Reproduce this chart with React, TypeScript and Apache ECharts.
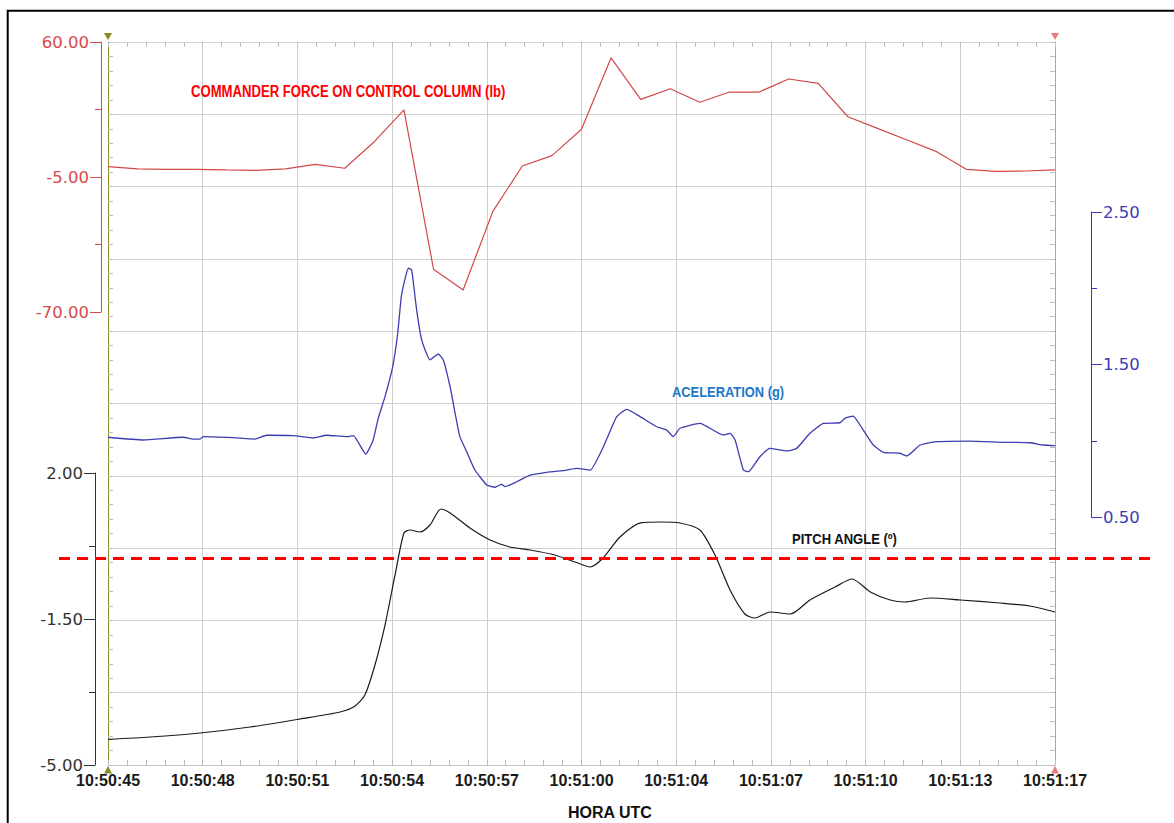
import React, { useEffect, useRef } from "react";
import * as echarts from "echarts";

// ---- tick labels ----
const xLabels = ["10:50:45", "10:50:48", "10:50:51", "10:50:54", "10:50:57", "10:51:00", "10:51:04", "10:51:07", "10:51:10", "10:51:13", "10:51:17"];

// ---- Commander force on control column (lb); x = seconds after 10:50:45 ----
const redSec = [0, 1, 2, 3, 4, 5, 6, 7, 8, 9, 10, 11, 12, 13, 14, 15, 16, 17, 18, 19, 20, 21, 22, 23, 24, 25, 26, 27, 28, 29, 30, 31, 32];
const redLb = [0.0, -1.1, -1.3, -1.3, -1.6, -1.8, -1.1, 1.1, -0.8, 12.0, 27.3, -49.4, -59.4, -21.7, 0.3, 5.3, 18.0, 52.4, 32.4, 37.5, 31.0, 35.9, 35.9, 42.2, 40.1, 24.0, 18.4, 12.8, 7.2, -1.3, -2.3, -2.1, -1.6];

// ---- Acceleration (g) ----
const blueSec = [0, 1.19, 2.54, 2.88, 3.11, 3.22, 4.23, 4.97, 5.36, 6.26, 6.94, 7.39, 8.07, 8.29, 8.71, 8.96, 9.13, 9.36, 9.62, 9.79, 9.92, 10.15, 10.26, 10.43, 10.6, 10.88, 11.16, 11.33, 11.56, 11.73, 11.89, 12.12, 12.4, 12.8, 13.08, 13.3, 13.42, 13.81, 14.26, 14.82, 15.5, 15.84, 16.29, 16.74, 17.19, 17.53, 17.98, 18.54, 18.88, 19.1, 19.33, 20.0, 20.79, 21.02, 21.19, 21.47, 21.64, 22.03, 22.37, 22.93, 23.27, 23.72, 24.17, 24.73, 24.9, 25.18, 25.52, 25.86, 26.2, 26.76, 26.99, 27.44, 28.0, 29.13, 30.25, 31.15, 31.6, 32.0];
const blueG = [1.023, 1.005, 1.023, 1.011, 1.011, 1.027, 1.02, 1.011, 1.036, 1.033, 1.018, 1.036, 1.027, 1.033, 0.913, 1.005, 1.147, 1.289, 1.486, 1.705, 1.956, 2.131, 2.12, 1.857, 1.661, 1.53, 1.569, 1.53, 1.354, 1.18, 1.027, 0.928, 0.808, 0.71, 0.695, 0.714, 0.699, 0.731, 0.775, 0.793, 0.808, 0.819, 0.808, 0.961, 1.158, 1.206, 1.158, 1.092, 1.07, 1.027, 1.082, 1.114, 1.038, 1.049, 1.005, 0.808, 0.797, 0.895, 0.95, 0.933, 0.95, 1.049, 1.114, 1.118, 1.147, 1.162, 1.07, 0.972, 0.924, 0.918, 0.9, 0.972, 0.994, 0.998, 0.99, 0.987, 0.972, 0.968];

// ---- Pitch angle (deg) ----
const blackSec = [0, 1.42, 3.11, 4.8, 6.49, 7.84, 8.35, 8.68, 9.02, 9.36, 9.7, 10.0, 10.2, 10.54, 10.88, 11.25, 11.56, 12.23, 12.91, 13.58, 14.26, 15.1, 15.78, 16.29, 16.73, 17.3, 18.03, 18.65, 19.33, 20.0, 20.51, 21.02, 21.52, 21.86, 22.37, 23.05, 23.72, 24.57, 25.14, 25.76, 26.43, 26.93, 27.78, 28.79, 30.14, 31.15, 32.0];
const blackDeg = [-4.384, -4.329, -4.233, -4.089, -3.897, -3.73, -3.586, -3.322, -2.603, -1.644, -0.445, 0.562, 0.634, 0.586, 0.753, 1.137, 1.041, 0.681, 0.394, 0.226, 0.154, 0.034, -0.133, -0.253, -0.038, 0.466, 0.809, 0.825, 0.801, 0.634, 0.034, -0.805, -1.38, -1.476, -1.332, -1.38, -1.045, -0.733, -0.541, -0.853, -1.045, -1.093, -0.997, -1.045, -1.116, -1.188, -1.332];

// axis ranges
const X_MIN = 0, X_MAX = 32, X_STEP = 3.2;
const RED_MIN = -70, RED_MAX = 60, RED_STEP = 65;
const BLUE_MIN = 0.5, BLUE_MAX = 2.5, BLUE_STEP = 1;
const BLK_MIN = -5, BLK_MAX = 2, BLK_STEP = 3.5;
const PITCH_REF = -0.05;

// layout
const PL = 108, PT = 42, PW = 947, PH = 723;
const RED_TOP = 42, RED_H = 270;
const BLUE_TOP = 212, BLUE_H = 305;
const BLK_TOP = 473, BLK_H = 292;

const OLIVE = "#8a8a22";
const PINK = "#e88e8a";
const RED_AX = "#d64a4a";
const BLUE_AX = "#3b3bb8";
const BLK_AX = "#333333";

function sideAxis(gridIndex: number, position: string, offset: number, min: number, max: number, interval: number, color: string) {
  return {
    type: "value",
    gridIndex,
    position,
    offset,
    min,
    max,
    interval,
    axisLine: { show: true, onZero: false, lineStyle: { color, width: 1 } },
    axisTick: { show: true, inside: false, length: 11, lineStyle: { color, width: 1 } },
    minorTick: { show: true, splitNumber: 2, length: 6, lineStyle: { color, width: 1 } },
    splitLine: { show: false },
    axisLabel: {
      show: true,
      color,
      fontFamily: "DejaVu Sans",
      fontSize: 16.5,
      margin: 12,
      formatter: (v: number) => v.toFixed(2),
    },
  };
}

function hiddenX(gridIndex: number) {
  return { type: "value", gridIndex, min: X_MIN, max: X_MAX, show: false };
}

export default function App() {
  const ref = useRef<HTMLDivElement>(null);
  useEffect(() => {
    const chart = echarts.init(ref.current!, null, { renderer: "svg" });
    const zeroY = BLK_TOP + ((BLK_MAX - PITCH_REF) / (BLK_MAX - BLK_MIN)) * BLK_H;
    const narrow = (text: string, x: number, y: number, size: number, color: string, sx: number) => ({
      type: "text",
      x,
      y,
      scaleX: sx,
      z: 100,
      style: { text, fill: color, font: `bold ${size}px "Liberation Sans", Arial, sans-serif`, verticalAlign: "middle", align: "left" },
    });
    const option: any = {
      animation: false,
      backgroundColor: "#ffffff",
      grid: [
        { left: PL, top: PT, width: PW, height: PH },
        { left: PL, top: RED_TOP, width: PW, height: RED_H },
        { left: PL, top: BLUE_TOP, width: PW, height: BLUE_H },
        { left: PL, top: BLK_TOP, width: PW, height: BLK_H },
      ],
      xAxis: [
        {
          type: "value",
          gridIndex: 0,
          position: "bottom",
          min: X_MIN,
          max: X_MAX,
          interval: X_STEP,
          axisLine: { show: true, onZero: false, lineStyle: { color: "#c4c4c4" } },
          axisTick: { show: true, inside: true, length: 5, lineStyle: { color: "#bdbdbd" } },
          minorTick: { show: true, splitNumber: 5, length: 5, lineStyle: { color: "#bdbdbd" } },
          splitLine: { show: true, lineStyle: { color: "#cfcfcf", width: 1 } },
          axisLabel: {
            formatter: (v: number) => xLabels[Math.round(v / X_STEP)] ?? "",
            fontFamily: "Liberation Sans",
            fontWeight: "bold",
            fontSize: 16,
            color: "#1a1a1a",
            margin: 7,
          },
        },
        {
          type: "value",
          gridIndex: 0,
          position: "top",
          min: X_MIN,
          max: X_MAX,
          interval: X_STEP,
          axisLine: { show: true, onZero: false, lineStyle: { color: "#d4d4d4" } },
          axisTick: { show: true, inside: true, length: 5, lineStyle: { color: "#bdbdbd" } },
          minorTick: { show: true, splitNumber: 5, length: 5, lineStyle: { color: "#bdbdbd" } },
          splitLine: { show: false },
          axisLabel: { show: false },
        },
        hiddenX(1),
        hiddenX(2),
        hiddenX(3),
      ],
      yAxis: [
        {
          type: "value",
          gridIndex: 0,
          position: "left",
          min: 0,
          max: 10,
          interval: 1,
          axisLine: { show: true, onZero: false, lineStyle: { color: OLIVE, width: 1 } },
          axisTick: { show: true, inside: true, length: 5, lineStyle: { color: "#bdbdbd" } },
          minorTick: { show: true, splitNumber: 5, length: 5, lineStyle: { color: "#bdbdbd" } },
          splitLine: { show: true, lineStyle: { color: "#cfcfcf", width: 1 } },
          axisLabel: { show: false },
        },
        {
          type: "value",
          gridIndex: 0,
          position: "right",
          min: 0,
          max: 10,
          interval: 1,
          axisLine: { show: true, onZero: false, lineStyle: { color: PINK, width: 1 } },
          axisTick: { show: true, inside: true, length: 5, lineStyle: { color: "#bdbdbd" } },
          minorTick: { show: true, splitNumber: 5, length: 5, lineStyle: { color: "#bdbdbd" } },
          splitLine: { show: false },
          axisLabel: { show: false },
        },
        sideAxis(1, "left", 7, RED_MIN, RED_MAX, RED_STEP, RED_AX),
        sideAxis(2, "right", 36, BLUE_MIN, BLUE_MAX, BLUE_STEP, BLUE_AX),
        sideAxis(3, "left", 13, BLK_MIN, BLK_MAX, BLK_STEP, BLK_AX),
      ],
      series: [
        {
          name: "COMMANDER FORCE ON CONTROL COLUMN (lb)",
          type: "line",
          xAxisIndex: 2,
          yAxisIndex: 2,
          symbol: "none",
          data: redSec.map((t, i) => [t, redLb[i]]),
          lineStyle: { color: "#d24848", width: 1.2 },
          z: 5,
        },
        {
          name: "ACELERATION (g)",
          type: "line",
          xAxisIndex: 3,
          yAxisIndex: 3,
          symbol: "none",
          smooth: 0.15,
          data: blueSec.map((t, i) => [t, blueG[i]]),
          lineStyle: { color: "#3d3db0", width: 1.3 },
          z: 5,
        },
        {
          name: "PITCH ANGLE (º)",
          type: "line",
          xAxisIndex: 4,
          yAxisIndex: 4,
          symbol: "none",
          smooth: 0.25,
          data: blackSec.map((t, i) => [t, blackDeg[i]]),
          lineStyle: { color: "#1a1a1a", width: 1.2 },
          z: 5,
        },
      ],
      graphic: [
        { type: "rect", shape: { x: 7.7, y: 10.8, width: 1300, height: 1000 }, style: { fill: "none", stroke: "#000", lineWidth: 2 }, silent: true },
        { type: "polygon", shape: { points: [[PL - 4, 33], [PL + 4, 33], [PL, 40]] }, style: { fill: OLIVE } },
        { type: "polygon", shape: { points: [[PL, 766], [PL - 4, 773.5], [PL + 4, 773.5]] }, style: { fill: OLIVE } },
        { type: "polygon", shape: { points: [[PL + PW - 4, 33], [PL + PW + 4, 33], [PL + PW, 40]] }, style: { fill: "#e87b7b" } },
        { type: "polygon", shape: { points: [[PL + PW, 766], [PL + PW - 4, 773.5], [PL + PW + 4, 773.5]] }, style: { fill: "#e87b7b" } },
        {
          type: "line",
          z: 90,
          shape: { x1: 59, y1: zeroY, x2: 1153, y2: zeroY },
          style: { stroke: "#ff0000", lineWidth: 3, lineDash: [11, 7] },
        },
        narrow("COMMANDER FORCE ON CONTROL COLUMN (lb)", 191, 92, 16, "#ff0000", 0.82),
        narrow("ACELERATION (g)", 672, 392, 15, "#1e78c8", 0.86),
        narrow("PITCH ANGLE (º)", 792, 539, 15, "#111111", 0.87),
        {
          type: "text",
          x: 568,
          y: 812,
          z: 100,
          style: { text: "HORA UTC", fill: "#111", font: 'bold 16px "Liberation Sans", Arial, sans-serif', verticalAlign: "middle", align: "left" },
        },
      ],
    };
    chart.setOption(option);
    return () => chart.dispose();
  }, []);
  return (
    <div
      ref={ref}
      style={{ position: "absolute", left: 0, top: 0, width: 1174, height: 823, background: "#fff" }}
    />
  );
}
